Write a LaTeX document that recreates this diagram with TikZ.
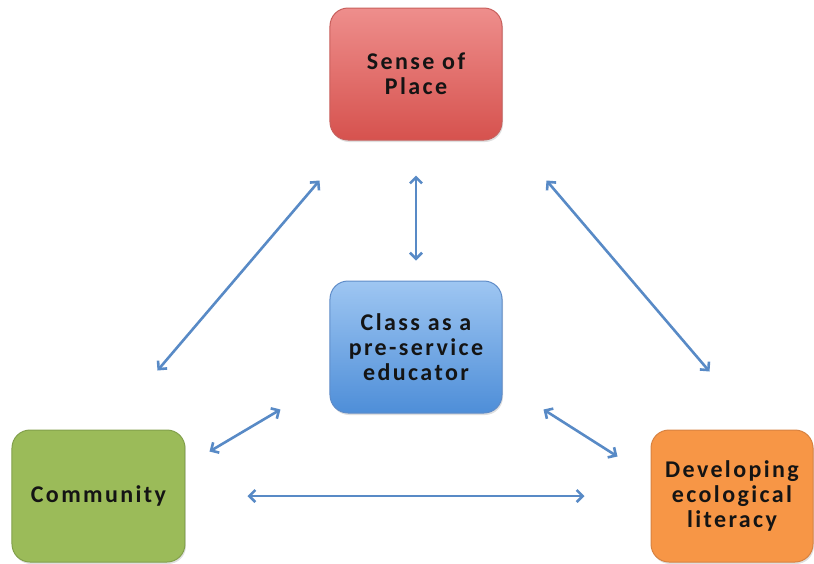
\documentclass[tikz,border=0pt]{standalone}
\usepackage{fontspec}
\newfontfamily\boxfont[LetterSpace=10]{Carlito}
\usepackage{tikz}
\usetikzlibrary{positioning,arrows.meta,shadows}
\definecolor{placetop}{RGB}{238,142,140}
\definecolor{placebot}{RGB}{214,82,78}
\definecolor{placeline}{RGB}{200,95,92}
\definecolor{classtop}{RGB}{158,198,242}
\definecolor{classbot}{RGB}{78,142,216}
\definecolor{classline}{RGB}{95,140,200}
\definecolor{community}{RGB}{155,187,89}
\definecolor{communityline}{RGB}{130,160,75}
\definecolor{literacy}{RGB}{247,150,70}
\definecolor{literacyline}{RGB}{215,130,65}
\definecolor{link}{RGB}{88,138,198}
\definecolor{boxtext}{RGB}{20,20,20}

\begin{document}
\begin{tikzpicture}[font=\boxfont\bfseries]
    \tikzstyle{box}=[draw, line width=1pt, rounded corners=18pt, minimum height=132pt, align=center,
        text=boxtext, font=\boxfont\bfseries\fontsize{24}{25}\selectfont,
        drop shadow={shadow xshift=1pt, shadow yshift=-2pt, opacity=0.25}, on grid]
    \tikzstyle{place}=[top color=placetop, bottom color=placebot, draw=placeline, minimum width=172pt]
    \tikzstyle{class}=[top color=classtop, bottom color=classbot, draw=classline, minimum width=172pt]
    \tikzstyle{community}=[fill=community, draw=communityline, minimum width=173pt]
    \tikzstyle{literacy}=[fill=literacy, draw=literacyline, minimum width=162pt]
    \tikzstyle{link}=[draw=link, line width=2.6pt, {Straight Barb[length=6pt,width=12pt]}-{Straight Barb[length=6pt,width=12pt]}]
    \useasboundingbox (-416pt,-489pt) rectangle (398pt,74pt);
    \node[box,place] (sense) {Sense of\\Place};
    \node[box,class,below=273pt of sense] (class) {Class as a\\pre-service\\educator};
    \node[box,community,below left=149pt and 317.5pt of class] (comm) {Community};
    \node[box,literacy,below right=149pt and 316pt of class] (lit) {Developing\\ecological\\literacy};
    \draw[link] ([shift={(-10pt,-40pt)}]sense.south west) -- ([shift={(-28pt,59pt)}]comm.north east);
    \draw[link,shorten <=35pt,shorten >=20pt] (sense) -- (class);
    \draw[link] ([shift={(44pt,-40pt)}]sense.south east) -- ([shift={(59pt,58pt)}]lit.north west);
    \draw[link] ([shift={(-49pt,4pt)}]class.south west) -- ([shift={(24pt,-22pt)}]comm.north east);
    \draw[link] ([shift={(41pt,4pt)}]class.south east) -- ([shift={(-33pt,-27pt)}]lit.north west);
    \draw[link,shorten <=62pt,shorten >=66pt] (comm) -- (lit);
\end{tikzpicture}
\end{document}
